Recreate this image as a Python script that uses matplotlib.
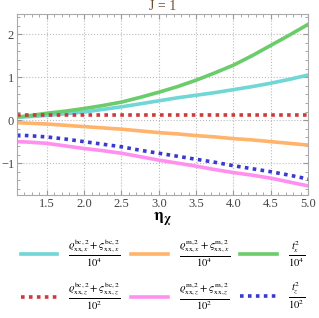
import matplotlib
matplotlib.use("Agg")
import matplotlib.pyplot as plt
from matplotlib.ticker import MultipleLocator

# eta_chi grid
eta = [1.1, 1.25, 1.5, 1.75, 2.0, 2.25, 2.5, 2.75, 3.0,
       3.25, 3.5, 3.75, 4.0, 4.25, 4.5, 4.75, 5.0]

# values
bc_x = [0.07, 0.08, 0.11, 0.15, 0.19, 0.25, 0.31, 0.38, 0.45,
        0.52, 0.58, 0.64, 0.71, 0.78, 0.86, 0.95, 1.05]
m_x = [-0.06, -0.07, -0.09, -0.12, -0.15, -0.18, -0.21, -0.25, -0.29,
       -0.32, -0.36, -0.39, -0.43, -0.46, -0.50, -0.54, -0.58]
t_x = [0.07, 0.10, 0.16, 0.21, 0.27, 0.34, 0.42, 0.53, 0.65,
       0.78, 0.93, 1.10, 1.28, 1.50, 1.74, 1.98, 2.23]
bc_z = [0.13] * 17
m_z = [-0.50, -0.51, -0.54, -0.60, -0.66, -0.71, -0.77, -0.85, -0.93,
       -1.00, -1.07, -1.15, -1.22, -1.28, -1.35, -1.44, -1.53]
t_z = [-0.35, -0.36, -0.39, -0.44, -0.50, -0.56, -0.62, -0.70, -0.77,
       -0.84, -0.91, -0.98, -1.06, -1.13, -1.20, -1.28, -1.37]

labels = [
    r"$\frac{\varrho^{\rm bc,2}_{\rm xx,\it x}+\varsigma^{\rm bc,2}_{\rm xx,\it x}}{10^4}$",
    r"$\frac{\varrho^{\rm m,2}_{\rm xx,\it x}+\varsigma^{\rm m,2}_{\rm xx,\it x}}{10^4}$",
    r"$\frac{t_x^2}{10^4}$",
    r"$\frac{\varrho^{\rm bc,2}_{\rm xx,\it z}+\varsigma^{\rm bc,2}_{\rm xx,\it z}}{10^2}$",
    r"$\frac{\varrho^{\rm m,2}_{\rm xx,\it z}+\varsigma^{\rm m,2}_{\rm xx,\it z}}{10^2}$",
    r"$\frac{t_z^2}{10^2}$",
]

plt.rcParams["font.family"] = "Liberation Serif"
plt.rcParams["mathtext.fontset"] = "stix"

fig = plt.figure(figsize=(3.19, 3.18), dpi=100)
ax = fig.add_axes([0.053, 0.387, 0.913, 0.569])

dots = (0, (1, 1.2))
lines = []
lines += ax.plot(eta, bc_x, color="#70d6d6", lw=2.6)
lines += ax.plot(eta, m_x, color="#ffb36b", lw=2.6)
lines += ax.plot(eta, t_x, color="#6acc6a", lw=2.6)
lines += ax.plot(eta, bc_z, color="#cc3a3a", lw=2.6, ls=dots)
lines += ax.plot(eta, m_z, color="#ff90f0", lw=2.6)
lines += ax.plot(eta, t_z, color="#3a3acc", lw=2.6, ls=dots)

ax.set_xlim(1.1, 5.0)
ax.set_ylim(-1.74, 2.47)
ax.xaxis.set_major_locator(MultipleLocator(0.5))
ax.xaxis.set_minor_locator(MultipleLocator(0.1))
ax.yaxis.set_major_locator(MultipleLocator(1))
ax.yaxis.set_minor_locator(MultipleLocator(0.2))
ax.tick_params(which="both", direction="in", top=True, right=True,
               color="#999999", labelsize=9, labelcolor="#444444", pad=2)
ax.tick_params(which="major", length=3.5)
ax.tick_params(which="minor", length=2)
for s in ax.spines.values():
    s.set_color("#aaaaaa")
ax.grid(True, which="major", ls=":", color="#bbbbbb", lw=0.8)

ax.set_title("J = 1", color="#6e4e2e", fontsize=10, pad=3)
ax.set_xlabel(r"$\mathbf{\eta_\chi}$", fontsize=12, labelpad=1)

# legend fills column by column, so reorder to keep row layout
order = [0, 3, 1, 4, 2, 5]
fig.legend([lines[i] for i in order], [labels[i] for i in order],
           loc="lower center", bbox_to_anchor=(0.51, -0.025), ncol=3, frameon=False,
           fontsize=11, handlelength=2.4, columnspacing=0.7, handletextpad=0.7,
           labelspacing=0.75)

fig.savefig("out.png", dpi=100)
